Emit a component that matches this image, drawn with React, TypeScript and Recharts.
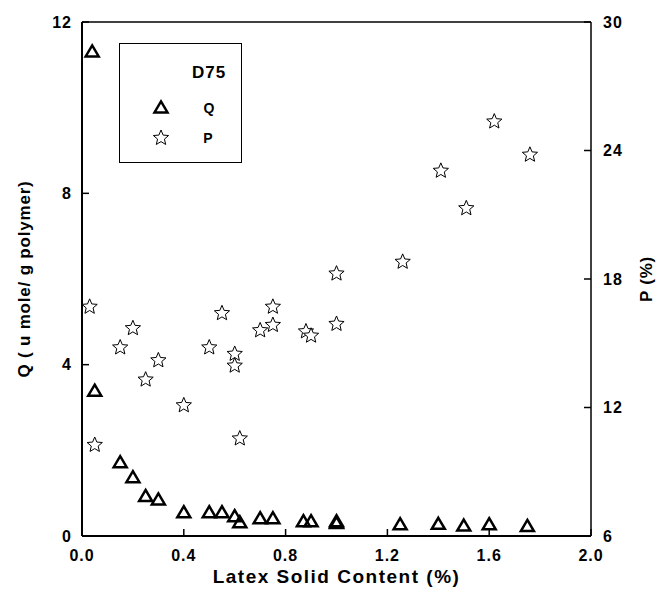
import React from 'react';
import { ReferenceLine, Scatter, ScatterChart, XAxis, YAxis } from 'recharts';

// Q (u mole / g polymer) vs latex solid content
const qX = [0.04, 0.05, 0.15, 0.2, 0.25, 0.3, 0.4, 0.5, 0.55, 0.6, 0.62, 0.7, 0.75, 0.87, 0.9, 1.0, 1.0, 1.25, 1.4, 1.5, 1.6, 1.75];
const qY = [11.3, 3.38, 1.71, 1.36, 0.92, 0.84, 0.54, 0.54, 0.54, 0.45, 0.31, 0.4, 0.4, 0.33, 0.33, 0.33, 0.29, 0.26, 0.27, 0.23, 0.26, 0.22];

// P (%) vs latex solid content
const pX = [0.03, 0.05, 0.15, 0.2, 0.25, 0.3, 0.4, 0.5, 0.55, 0.6, 0.6, 0.62, 0.7, 0.75, 0.75, 0.88, 0.9, 1.0, 1.0, 1.26, 1.41, 1.51, 1.62, 1.76];
const pY = [16.7, 10.25, 14.8, 15.7, 13.3, 14.2, 12.1, 14.8, 16.4, 14.5, 13.95, 10.55, 15.6, 16.7, 15.85, 15.55, 15.35, 18.25, 15.9, 18.8, 23.05, 21.3, 25.35, 23.8];

const xTicks = [0, 0.4, 0.8, 1.2, 1.6, 2.0];
const qTicks = [0, 4, 8, 12];
const pTicks = [6, 12, 18, 24, 30];

const qData = qX.map((x, i) => ({ x, q: qY[i] }));
const pData = pX.map((x, i) => ({ x, p: pY[i] }));

const FONT = '"Liberation Sans", Arial, sans-serif';
const tickStyle = { fill: '#000', fontSize: 16, fontWeight: 700, fontFamily: FONT, letterSpacing: 1 };
const titleStyle = {
  fill: '#000',
  fontSize: 19,
  fontWeight: 700,
  fontFamily: FONT,
  letterSpacing: 1.5,
  textAnchor: 'middle' as const,
};

function triPoints(cx: number, cy: number, s: number) {
  const h = s * 0.85;
  return `${cx},${cy - h * 0.6} ${cx + s / 2},${cy + h * 0.4} ${cx - s / 2},${cy + h * 0.4}`;
}

function starPoints(cx: number, cy: number, r: number) {
  const pts: string[] = [];
  for (let i = 0; i < 10; i++) {
    const rr = i % 2 === 0 ? r : r * 0.45;
    const a = -Math.PI / 2 + (i * Math.PI) / 5;
    pts.push(`${cx + rr * Math.cos(a)},${cy + rr * Math.sin(a)}`);
  }
  return pts.join(' ');
}

const Triangle = (props: any) => {
  const { cx, cy } = props;
  if (cx == null || cy == null) return null;
  return <polygon points={triPoints(cx, cy, 13)} fill="none" stroke="#000" strokeWidth={2.5} />;
};

const Star = (props: any) => {
  const { cx, cy } = props;
  if (cx == null || cy == null) return null;
  return <polygon points={starPoints(cx, cy, 8)} fill="#fff" stroke="#000" strokeWidth={1} />;
};

function Legend() {
  return (
    <div
      style={{
        position: 'absolute',
        left: 119,
        top: 43,
        width: 121,
        height: 118,
        border: '1px solid #000',
        background: '#fff',
      }}
    >
      <svg width={121} height={118} style={{ display: 'block' }}>
        <text x={89} y={34} textAnchor="middle" fontSize={17} fontWeight={700} fontFamily={FONT} letterSpacing={1}>
          D75
        </text>
        <polygon points={triPoints(41, 64, 13)} fill="none" stroke="#000" strokeWidth={2.5} />
        <text x={89} y={69} textAnchor="middle" fontSize={14} fontWeight={700} fontFamily={FONT}>
          Q
        </text>
        <polygon points={starPoints(41, 94, 8)} fill="#fff" stroke="#000" strokeWidth={1} />
        <text x={88} y={99} textAnchor="middle" fontSize={14} fontWeight={700} fontFamily={FONT}>
          P
        </text>
      </svg>
    </div>
  );
}

export default function App() {
  return (
    <div style={{ position: 'absolute', left: 0, top: 0, width: 658, height: 591, background: '#fff' }}>
      <ScatterChart width={658} height={591} margin={{ top: 22, right: 7, bottom: 3, left: 10 }}>
        <XAxis
          type="number"
          dataKey="x"
          domain={[0, 2]}
          ticks={xTicks}
          tickFormatter={(v: number) => v.toFixed(1)}
          tick={tickStyle}
          tickSize={-7}
          tickMargin={21}
          tickLine={{ stroke: '#000', strokeWidth: 1.5 }}
          axisLine={{ stroke: '#000', strokeWidth: 2 }}
          height={52}
          label={{ value: 'Latex Solid Content (%)', position: 'insideBottom', offset: 5, style: titleStyle }}
        />
        <YAxis
          yAxisId="q"
          type="number"
          dataKey="q"
          domain={[0, 12]}
          ticks={qTicks}
          tick={tickStyle}
          tickSize={-7}
          tickMargin={17}
          tickLine={{ stroke: '#000', strokeWidth: 1.5 }}
          axisLine={{ stroke: '#000', strokeWidth: 2 }}
          width={72}
          label={{
            value: 'Q ( u mole/ g polymer)',
            angle: -90,
            position: 'insideLeft',
            offset: 14,
            style: { ...titleStyle, fontSize: 17, letterSpacing: 0.8 },
          }}
        />
        <YAxis
          yAxisId="p"
          orientation="right"
          type="number"
          dataKey="p"
          domain={[6, 30]}
          ticks={pTicks}
          tick={tickStyle}
          tickSize={-7}
          tickMargin={19}
          tickLine={{ stroke: '#000', strokeWidth: 1.5 }}
          axisLine={{ stroke: '#000', strokeWidth: 1.5 }}
          width={60}
          label={{
            value: 'P (%)',
            angle: -90,
            position: 'insideRight',
            offset: 5,
            style: { ...titleStyle, fontSize: 17, letterSpacing: 0.8 },
          }}
        />
        <ReferenceLine yAxisId="q" y={12} stroke="#000" strokeWidth={1.5} />
        <Scatter yAxisId="q" data={qData} dataKey="q" shape={Triangle} isAnimationActive={false} />
        <Scatter yAxisId="p" data={pData} dataKey="p" shape={Star} isAnimationActive={false} />
      </ScatterChart>
      <Legend />
    </div>
  );
}
